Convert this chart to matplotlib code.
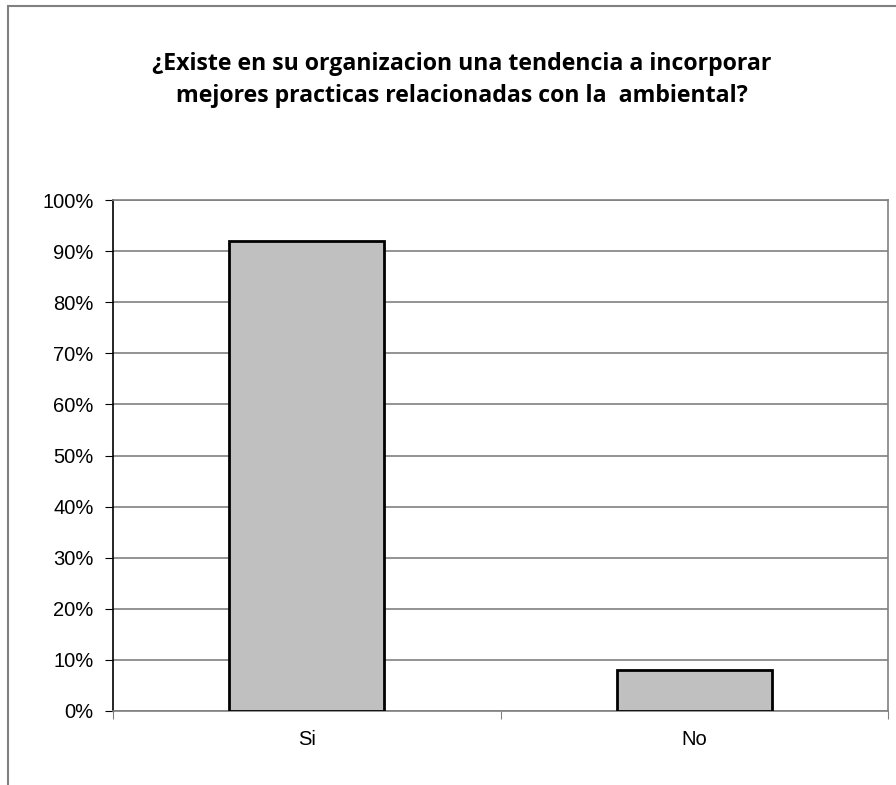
import numpy as np
import matplotlib.pyplot as plt
from matplotlib.patches import Rectangle
from matplotlib.ticker import FuncFormatter

categories = ['Si', 'No']
values = [92, 8]  # percent
title = u'¿Existe en su organizacion una tendencia a incorporar\nmejores practicas relacionadas con la  ambiental?'

W, H = 896, 785
fig = plt.figure(figsize=(W / 100.0, H / 100.0), dpi=100)

# outer chart border (runs off the right and bottom edges)
fig.patches.append(Rectangle((8.0 / W, -0.1), (W + 10.0) / W, 1.1 - 6.0 / H,
                             transform=fig.transFigure, fill=False,
                             edgecolor='#808080', linewidth=1.5))

# plot area
left, right, top, bottom = 113, 888, 200, 711
ax = fig.add_axes([left / W, 1 - bottom / H, (right - left) / W, (bottom - top) / H])

x = np.arange(len(categories))
ax.bar(x, values, width=0.4, color='#c0c0c0', edgecolor='black', linewidth=2, zorder=3)

ax.set_xlim(-0.5, len(categories) - 0.5)
ax.set_ylim(0, 100)
ax.set_yticks(np.arange(0, 101, 10))
ax.yaxis.set_major_formatter(FuncFormatter(lambda v, p: '%d%%' % v))
ax.yaxis.grid(True, color='#808080', linewidth=1.2, zorder=0)

# category labels in between boundary ticks
ax.set_xticks(np.arange(-0.5, len(categories), 1.0))
ax.set_xticklabels([])
ax.set_xticks(x, minor=True)
ax.set_xticklabels(categories, minor=True)
ax.tick_params(axis='x', which='minor', length=0, pad=14)
ax.tick_params(axis='x', which='major', length=6, color='#808080')
ax.tick_params(axis='y', length=6, pad=8)

for lbl in ax.get_yticklabels() + ax.get_xticklabels(minor=True):
    lbl.set_fontfamily('Liberation Sans')
    lbl.set_fontsize(14.5)

ax.spines['left'].set_color('black')
ax.spines['left'].set_linewidth(1.2)
for s in ['top', 'right', 'bottom']:
    ax.spines[s].set_color('#808080')
    ax.spines[s].set_linewidth(1.2)

fig.text(462.0 / W, 1 - 80.0 / H, title, ha='center', va='center', fontsize=16.7,
         fontweight='bold', family='Open Sans', linespacing=1.5)

fig.savefig('out.png', dpi=100)
